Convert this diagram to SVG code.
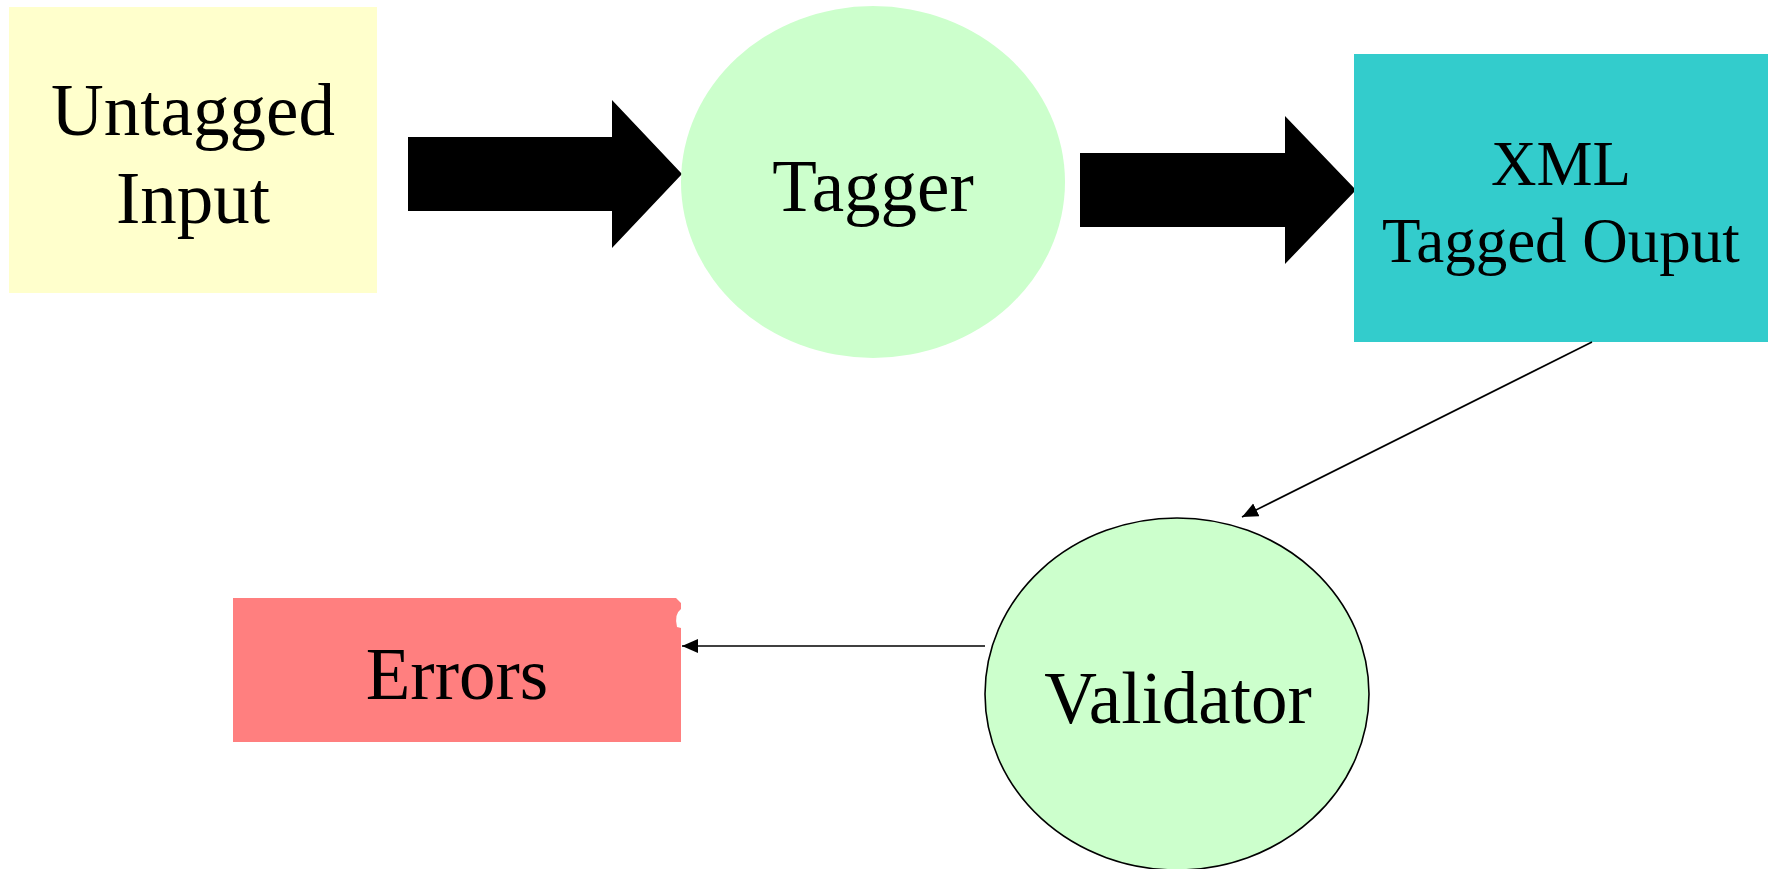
<svg xmlns="http://www.w3.org/2000/svg" width="1773" height="869" viewBox="0 0 1773 869">
  <style>
    .label { font-family: "Liberation Serif", "Times New Roman", serif; fill: #000; text-anchor: middle; }
    .big { font-size: 73px; }
    .mid { font-size: 63px; }
    .proc { fill: #CCFFCC; }
    .flow { fill: #000; }
    .link { stroke: #000; stroke-width: 1.6; fill: none; }
  </style>
  <defs>
    <marker id="tri" markerUnits="userSpaceOnUse" markerWidth="18" markerHeight="16" refX="16" refY="7" orient="auto">
      <path d="M0,0 L16,7 L0,14 Z" fill="#000"/>
    </marker>
  </defs>

  <rect width="1773" height="869" fill="#fff"/>

  <!-- block arrows between the top-row stages -->
  <g id="flow-arrows">
    <polygon class="flow" points="408,137 612,137 612,100 682,174 612,248 612,211 408,211"/>
    <polygon class="flow" points="1080,153 1285,153 1285,116 1356,190 1285,264 1285,227 1080,227"/>
  </g>

  <g id="untagged-input">
    <rect x="9" y="7" width="368" height="286" fill="#FFFFCC"/>
    <text class="label big" x="193" y="135">Untagged</text>
    <text class="label big" x="193" y="223">Input</text>
  </g>

  <g id="tagger">
    <ellipse class="proc" cx="873" cy="182" rx="192" ry="176"/>
    <text class="label big" x="873" y="211">Tagger</text>
  </g>

  <g id="xml-output">
    <rect x="1354" y="54" width="414" height="288" fill="#33CCCC"/>
    <text class="label mid" x="1561" y="185">XML</text>
    <text class="label mid" x="1561" y="262">Tagged Ouput</text>
  </g>

  <g id="validator">
    <ellipse class="proc" cx="1177" cy="694" rx="192" ry="176" stroke="#000" stroke-width="1.6"/>
    <text class="label big" x="1178" y="723">Validator</text>
  </g>

  <g id="errors">
    <rect x="233" y="598" width="448" height="144" fill="#FF7F7F"/>
    <path d="M676,598 L681,598 L681,603 Z M681,609 Q674,614 677,627 L681,628 Z" fill="#fff"/>
    <text class="label big" x="457" y="699">Errors</text>
  </g>

  <g id="connectors">
    <line class="link" x1="1592" y1="342" x2="1242" y2="517" marker-end="url(#tri)"/>
    <line class="link" x1="985" y1="646" x2="682" y2="646" marker-end="url(#tri)"/>
  </g>
</svg>
